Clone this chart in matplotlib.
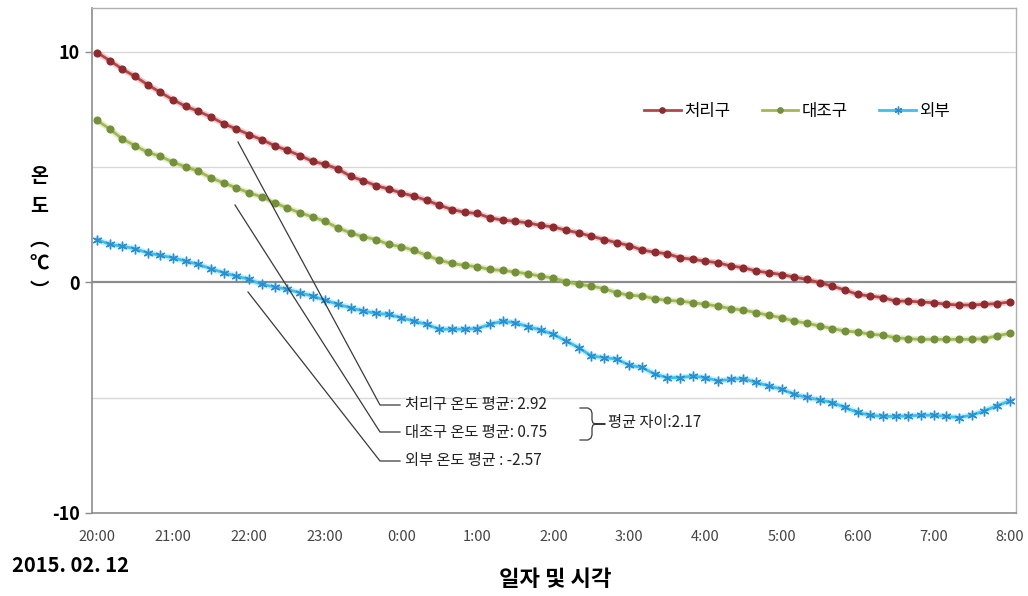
import matplotlib
matplotlib.use("Agg")
import matplotlib.pyplot as plt
from matplotlib.lines import Line2D
import numpy as np

plt.rcParams['font.family'] = ['Noto Sans CJK KR', 'DejaVu Sans']

# 10-minute readings, 2015-02-12 20:00 -> 2015-02-13 08:00
treated = [9.97, 9.62, 9.25, 8.93, 8.57, 8.24, 7.92, 7.63, 7.42, 7.17, 6.88, 6.65, 6.41,
           6.19, 5.93, 5.73, 5.50, 5.25, 5.12, 4.92, 4.60, 4.41, 4.20, 4.05, 3.88, 3.74,
           3.56, 3.35, 3.16, 3.04, 2.99, 2.80, 2.70, 2.65, 2.58, 2.47, 2.41, 2.26, 2.15,
           2.00, 1.86, 1.72, 1.60, 1.40, 1.31, 1.24, 1.07, 1.00, 0.92, 0.85, 0.71, 0.64,
           0.49, 0.42, 0.34, 0.23, 0.13, -0.01, -0.16, -0.33, -0.52, -0.59, -0.66, -0.81,
           -0.81, -0.85, -0.88, -0.95, -0.98, -0.98, -0.95, -0.92, -0.85]
control = [7.03, 6.65, 6.22, 5.93, 5.64, 5.47, 5.21, 5.01, 4.82, 4.53, 4.31, 4.10, 3.88,
           3.71, 3.45, 3.23, 3.02, 2.84, 2.65, 2.36, 2.15, 1.98, 1.86, 1.65, 1.55, 1.39,
           1.17, 0.97, 0.82, 0.74, 0.68, 0.56, 0.52, 0.45, 0.37, 0.27, 0.19, 0.03, -0.09,
           -0.16, -0.27, -0.45, -0.56, -0.59, -0.71, -0.78, -0.81, -0.88, -0.95, -1.03,
           -1.14, -1.20, -1.31, -1.43, -1.53, -1.68, -1.77, -1.89, -2.00, -2.11, -2.15,
           -2.25, -2.29, -2.40, -2.44, -2.47, -2.47, -2.47, -2.47, -2.47, -2.44, -2.32, -2.21]
outside = [1.86, 1.65, 1.57, 1.46, 1.28, 1.17, 1.07, 0.92, 0.78, 0.59, 0.42, 0.27, 0.13,
           -0.09, -0.19, -0.30, -0.45, -0.59, -0.77, -0.95, -1.10, -1.24, -1.34, -1.39,
           -1.53, -1.68, -1.82, -2.03, -2.03, -2.03, -2.00, -1.82, -1.68, -1.75, -1.92,
           -2.06, -2.25, -2.54, -2.83, -3.19, -3.26, -3.33, -3.59, -3.69, -3.98, -4.13,
           -4.13, -4.06, -4.13, -4.27, -4.20, -4.17, -4.34, -4.49, -4.63, -4.85, -4.99,
           -5.09, -5.21, -5.42, -5.64, -5.76, -5.81, -5.81, -5.79, -5.76, -5.76, -5.81,
           -5.86, -5.76, -5.57, -5.35, -5.14]

hour_labels = ['20:00', '21:00', '22:00', '23:00', '0:00', '1:00', '2:00',
               '3:00', '4:00', '5:00', '6:00', '7:00', '8:00']
series_names = ['처리구', '대조구', '외부']
mean_text = ['처리구 온도 평균: 2.92', '대조구 온도 평균: 0.75', '외부 온도 평균 : -2.57']
diff_text = '평균 자이:2.17'

x = np.arange(len(treated))
W, H = 1028, 596

fig = plt.figure(figsize=(W / 100, H / 100), dpi=100)
ax = fig.add_axes([92 / W, 1 - 513 / H, 924 / W, 505 / H])

# horizontal guides
for yv in (10, 5, -5):
    ax.axhline(yv, color='#d9d9d9', lw=1.0, zorder=0)
ax.axhline(0, color='#8c8c8c', lw=1.6, zorder=1)

styles = [
    (treated, '#b4464a', '#8e2b2f', 'o', 4.8),
    (control, '#a3b852', '#74903a', 'o', 4.8),
    (outside, '#3cc0ee', '#2b8fcf', (6, 2, 0), 7.0),
]
handles = []
for (vals, lc, mc, mk, ms), name in zip(styles, series_names):
    # soft halo under each series
    ax.plot(x, vals, color=lc, lw=4.5, alpha=0.25, zorder=2, solid_capstyle='round')
    h, = ax.plot(x, vals, color=lc, lw=2.0, marker=mk, ms=ms, mfc=mc, mec=mc,
                 mew=1.0, zorder=3, label=name)
    handles.append(h)

ax.set_xlim(-0.4, 72.5)
ax.set_ylim(-10, 11.9)

ax.set_xticks(x[::6])
ax.set_xticklabels(hour_labels, fontsize=10.5, color='#444444')
ax.tick_params(axis='x', length=0, pad=12)
ax.set_yticks([10, 0, -10])
ax.set_yticklabels(['10', '0', '-10'], fontsize=13, fontweight='bold')
ax.tick_params(axis='y', length=5, width=1, color='#8c8c8c', pad=4)

for side in ('left', 'bottom'):
    ax.spines[side].set_color('#8c8c8c')
    ax.spines[side].set_linewidth(1.2)
for side in ('top', 'right'):
    ax.spines[side].set_color('#b0b0b0')
    ax.spines[side].set_linewidth(1.0)

ax.legend(handles=handles, loc='center', bbox_to_anchor=(0.763, 0.796), ncol=3,
          frameon=False, fontsize=12, handlelength=2.2, handletextpad=0.2,
          columnspacing=1.9, markerscale=0.8)


def fpx(px, py):
    return px / W, 1 - py / H


def leader(points):
    xs, ys = zip(*[fpx(px, py) for px, py in points])
    fig.add_artist(Line2D(xs, ys, transform=fig.transFigure, color='#3a3a3a', lw=0.9))


# callouts for the period means
leader([(238, 142), (380, 405), (400, 405)])
leader([(235, 205), (380, 432), (400, 432)])
leader([(248, 292), (380, 461), (400, 461)])
for txt, py in zip(mean_text, (405, 432, 461)):
    fig.text(*fpx(405, py), txt, fontsize=11, va='center', ha='left', color='#222222')

# bracket joining the two greenhouse means
brace = [(580, 408), (588, 408), (591, 410), (592, 413), (592, 420), (593, 423),
         (596, 424), (605, 424), (596, 424), (593, 425), (592, 428), (592, 435),
         (591, 438), (588, 440), (580, 440)]
leader(brace)
fig.text(*fpx(608, 423), diff_text, fontsize=11, va='center', ha='left', color='#222222')

# stacked vertical y-axis title
for ch, py in zip(['온', '도', '︵', '℃', '︶'], [176, 207, 240, 264, 291]):
    fig.text(*fpx(39, py), ch, fontsize=14, fontweight='bold', ha='center', va='center')

fig.text(*fpx(555, 580), '일자 및 시각', fontsize=16, fontweight='bold', ha='center', va='center')
fig.text(*fpx(12, 565), '2015. 02. 12', fontsize=14.5, fontweight='bold', ha='left', va='center')

fig.savefig('out.png', dpi=100)
